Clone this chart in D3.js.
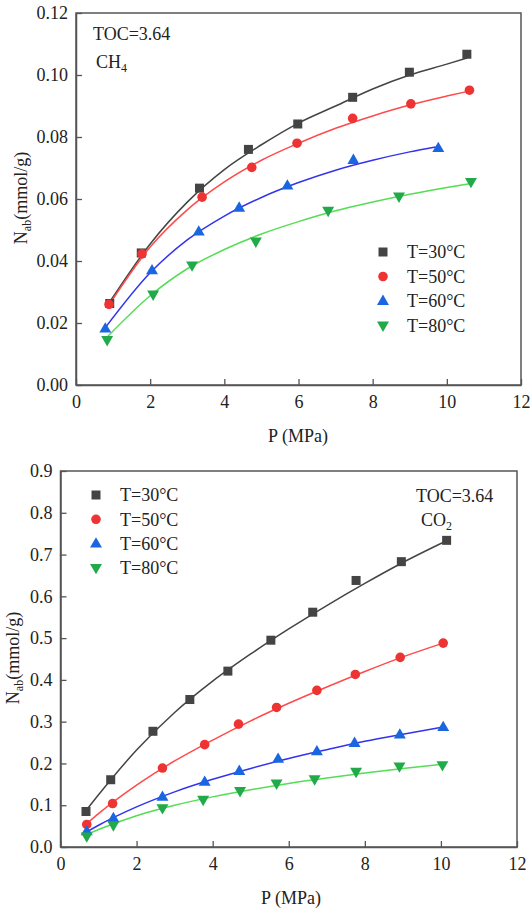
<!DOCTYPE html>
<html><head><meta charset="utf-8">
<script src="https://cdn.jsdelivr.net/npm/d3@7"></script>
<style>
html,body{margin:0;padding:0;background:#fff;}
svg{display:block;}
svg text{font-family:"Liberation Serif","Times New Roman",Times,"DejaVu Serif",serif !important;}
</style></head>
<body><svg id="c" width="530" height="909"></svg>
<script>
// ---------- data ----------
const seriesNames = ["T=30°C","T=50°C","T=60°C","T=80°C"];
const seriesColors = ["#444444","#ee3333","#1a66e0","#22aa4a"];
const lineColors = ["#444444","#ff4a4a","#3333ee","#55dd55"];
const seriesShapes = ["square","circle","triangle","triangleDown"];

// CH4 measured points [P, Nab]
const ch4_30 = [[0.91,0.0263],[1.76,0.0426],[3.33,0.0635],[4.65,0.0760],[5.98,0.0842],[7.46,0.0928],[8.99,0.1009],[10.54,0.1067]];
const ch4_50 = [[0.89,0.0260],[1.78,0.0423],[3.40,0.0606],[4.74,0.0702],[5.96,0.0780],[7.46,0.0860],[9.03,0.0907],[10.61,0.0951]];
const ch4_60 = [[0.79,0.0182],[2.05,0.0370],[3.31,0.0495],[4.40,0.0572],[5.70,0.0643],[7.48,0.0726],[9.77,0.0764]];
const ch4_80 = [[0.84,0.0145],[2.08,0.0292],[3.13,0.0386],[4.85,0.0463],[6.80,0.0562],[8.71,0.0608],[10.65,0.0655]];
// CH4 fitted curves
const ch4_30_fit = [[0.95,0.0275],[2,0.0455],[3,0.0590],[4,0.0695],[5,0.0775],[6,0.0845],[7,0.0900],[8,0.0955],[9,0.1000],[10,0.1035],[10.55,0.1055]];
const ch4_50_fit = [[0.90,0.0260],[2,0.0445],[3,0.0565],[4,0.0655],[5,0.0725],[6,0.0780],[7,0.0828],[8,0.0868],[9,0.0903],[10,0.0932],[10.6,0.0948]];
const ch4_60_fit = [[0.79,0.0185],[2,0.0362],[3,0.0468],[4,0.0545],[5,0.0605],[6,0.0653],[7,0.0693],[8,0.0725],[9,0.0752],[9.7,0.0768]];
const ch4_80_fit = [[0.84,0.0155],[2,0.0288],[3,0.0375],[4,0.0437],[5,0.0487],[6,0.0527],[7,0.0562],[8,0.0590],[9,0.0615],[10,0.0637],[10.65,0.0650]];

// CO2 measured points [P, Nab]
const co2_30 = [[0.67,0.085],[1.32,0.161],[2.43,0.277],[3.40,0.353],[4.40,0.421],[5.53,0.495],[6.63,0.562],[7.77,0.638],[8.96,0.683],[10.15,0.734]];
const co2_50 = [[0.69,0.054],[1.37,0.104],[2.68,0.189],[3.79,0.245],[4.68,0.294],[5.68,0.334],[6.74,0.375],[7.75,0.413],[8.93,0.454],[10.06,0.488]];
const co2_60 = [[0.69,0.0375],[1.39,0.069],[2.68,0.120],[3.79,0.156],[4.70,0.182],[5.72,0.211],[6.74,0.229],[7.73,0.249],[8.92,0.269],[10.06,0.287]];
const co2_80 = [[0.69,0.0255],[1.39,0.052],[2.68,0.093],[3.75,0.113],[4.72,0.134],[5.68,0.152],[6.68,0.162],[7.77,0.180],[8.91,0.193],[10.04,0.196]];
// CO2 fitted curves
const co2_30_fit = [[0.67,0.087],[1,0.125],[2,0.232],[3,0.322],[4,0.397],[5,0.462],[6,0.522],[7,0.578],[8,0.631],[9,0.681],[10.15,0.733]];
const co2_50_fit = [[0.69,0.056],[1,0.080],[2,0.148],[3,0.206],[4,0.256],[5,0.302],[6,0.344],[7,0.383],[8,0.420],[9,0.455],[10.06,0.488]];
const co2_60_fit = [[0.69,0.036],[1,0.052],[2,0.096],[3,0.132],[4,0.162],[5,0.188],[6,0.212],[7,0.233],[8,0.253],[9,0.270],[10.06,0.287]];
const co2_80_fit = [[0.69,0.030],[1,0.042],[2,0.075],[3,0.100],[4,0.120],[5,0.137],[6,0.152],[7,0.165],[8,0.177],[9,0.188],[10.04,0.198]];

const xTicks = [0,2,4,6,8,10,12];
const ch4YTicks = [0,0.02,0.04,0.06,0.08,0.10,0.12];
const co2YTicks = [0,0.1,0.2,0.3,0.4,0.5,0.6,0.7,0.8,0.9];

// ---------- drawing ----------
const svg = d3.select("#c");
const FS = 18;
const SERIF = "'Liberation Serif','Times New Roman',Times,'DejaVu Serif',serif";

function marker(g, shape, x, y, color){
  if(shape==="square"){
    g.append("rect").attr("x",x-4.5).attr("y",y-4.5).attr("width",9).attr("height",9).attr("fill",color);
  } else if(shape==="circle"){
    g.append("circle").attr("cx",x).attr("cy",y).attr("r",4.8).attr("fill",color);
  } else {
    const sym = d3.symbol().type(d3.symbolTriangle).size(62);
    g.append("path").attr("d",sym()).attr("fill",color)
      .attr("transform",`translate(${x},${y+(shape==="triangle"?0.5:-0.5)})${shape==="triangleDown"?" rotate(180)":""}`);
  }
}

function panel(opt){
  const x = d3.scaleLinear().domain([0,12]).range([opt.left,opt.right]);
  const y = d3.scaleLinear().domain(opt.yDomain).range([opt.bottom,opt.top]);
  const g = svg.append("g").attr("font-family",SERIF);

  g.append("rect").attr("x",opt.left).attr("y",opt.top)
    .attr("width",opt.right-opt.left).attr("height",opt.bottom-opt.top)
    .attr("fill","none").attr("stroke","#555").attr("stroke-width",1.5);

  const xa = g.append("g").attr("transform",`translate(0,${opt.bottom})`)
    .call(d3.axisBottom(x).tickValues(xTicks).tickSizeInner(-6).tickSizeOuter(0).tickPadding(10).tickFormat(d3.format("d")));
  const ya = g.append("g").attr("transform",`translate(${opt.left},0)`)
    .call(d3.axisLeft(y).tickValues(opt.yTicks).tickSizeInner(-6).tickSizeOuter(0).tickPadding(8).tickFormat(d3.format(opt.yFmt)));
  [xa,ya].forEach(a=>{
    a.attr("font-family",SERIF).attr("font-size",FS);
    a.select(".domain").attr("stroke","#555").attr("stroke-width",1.5);
    a.selectAll(".tick line").attr("stroke","#555").attr("stroke-width",1.3);
    a.selectAll(".tick text").attr("fill","#222");
  });

  g.append("text").attr("x",opt.xTitleX).attr("y",opt.xTitleY).attr("text-anchor","middle")
    .attr("font-size",FS).attr("fill","#222").text("P (MPa)");
  const yt = g.append("text").attr("transform",`translate(${opt.yTitleX},${opt.yTitleY}) rotate(-90)`)
    .attr("text-anchor","middle").attr("font-size",FS).attr("fill","#222");
  yt.append("tspan").text("N");
  yt.append("tspan").attr("font-size",12).attr("dy",4).text("ab");
  yt.append("tspan").attr("dy",-4).text("(mmol/g)");

  const line = d3.line().x(d=>x(d[0])).y(d=>y(d[1])).curve(d3.curveMonotoneX);
  opt.fits.forEach((f,i)=>{
    g.append("path").attr("d",line(f)).attr("fill","none").attr("stroke",lineColors[i]).attr("stroke-width",1.5);
  });
  opt.points.forEach((pts,i)=>{
    pts.forEach(p=>marker(g, seriesShapes[i], x(p[0]), y(p[1]), seriesColors[i]));
  });

  seriesNames.forEach((n,i)=>{
    const yy = opt.legY + i*opt.legStep;
    marker(g, seriesShapes[i], opt.legX, yy, seriesColors[i]);
    g.append("text").attr("x",opt.legX+24).attr("y",yy).attr("dy","0.35em")
      .attr("font-size",FS).attr("fill","#222").text(n);
  });

  g.append("text").attr("x",opt.tocX).attr("y",opt.tocY).attr("font-size",FS).attr("fill","#222").text("TOC=3.64");
  const gt = g.append("text").attr("x",opt.gasX).attr("y",opt.gasY).attr("font-size",FS).attr("fill","#222");
  gt.append("tspan").text(opt.gas[0]);
  gt.append("tspan").attr("font-size",12).attr("dy",4).text(opt.gas[1]);
}

panel({
  left:76, right:521, top:13, bottom:385,
  yDomain:[0,0.12], yTicks:ch4YTicks, yFmt:".2f",
  xTitleX:298, xTitleY:442, yTitleX:27, yTitleY:198,
  fits:[ch4_30_fit,ch4_50_fit,ch4_60_fit,ch4_80_fit],
  points:[ch4_30,ch4_50,ch4_60,ch4_80],
  legX:383, legY:252, legStep:24.5,
  tocX:93, tocY:40, gas:["CH","4"], gasX:96, gasY:68
});

panel({
  left:60.5, right:517, top:471, bottom:847,
  yDomain:[0,0.9], yTicks:co2YTicks, yFmt:".1f",
  xTitleX:291, xTitleY:904, yTitleX:19, yTitleY:658,
  fits:[co2_30_fit,co2_50_fit,co2_60_fit,co2_80_fit],
  points:[co2_30,co2_50,co2_60,co2_80],
  legX:96, legY:495, legStep:24.3,
  tocX:416, tocY:502, gas:["CO","2"], gasX:421, gasY:526
});
</script></body></html>
